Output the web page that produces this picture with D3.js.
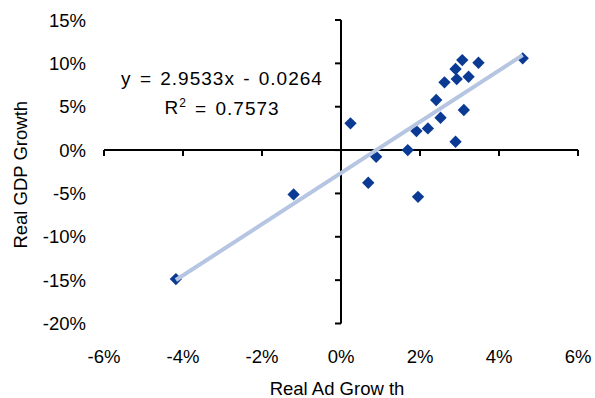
<!DOCTYPE html>
<html>
<head>
<meta charset="utf-8">
<script src="https://cdn.jsdelivr.net/npm/d3@7"></script>
<style>
  html, body { margin: 0; padding: 0; background: #fff; }
  svg { display: block; font-family: "Liberation Sans", Arial, sans-serif; }
</style>
</head>
<body>
<svg id="chart" width="595" height="398"></svg>
<script>
// Real advertising growth vs real GDP growth (fractions)
const adGrowth  = [-0.0418, 0.0460, -0.0120, 0.0024, 0.0089, 0.0069, 0.0195, 0.0169,
                   0.0191, 0.0220, 0.0252, 0.0311, 0.0290, 0.0241, 0.0262, 0.0293,
                   0.0323, 0.0290, 0.0307, 0.0348];
const gdpGrowth = [-0.1488, 0.1058, -0.0511, 0.0308, -0.0077, -0.0377, -0.0539, 0.0000,
                   0.0219, 0.0250, 0.0373, 0.0462, 0.0096, 0.0577, 0.0781, 0.0819,
                   0.0846, 0.0935, 0.1038, 0.1007];

// Linear fit shown on the chart
const trendSlope = 2.9533;
const trendIntercept = -0.0264;
const rSquared = 0.7573;

const xTickValues = [-0.06, -0.04, -0.02, 0, 0.02, 0.04, 0.06];
const yTickValues = [-0.20, -0.15, -0.10, -0.05, 0, 0.05, 0.10, 0.15];

const svg = d3.select("#chart");
const fontSize = 18.5;

const x = d3.scaleLinear().domain([-0.06, 0.06]).range([104, 578]);
const y = d3.scaleLinear().domain([-0.20, 0.15]).range([323.5, 20]);
const pctFmt = d3.format(".0%");
const pct = d => pctFmt(d).replace("\u2212", "-");

const x0 = x(0), y0 = y(0);

// Vertical axis through x = 0, ticks to the left
svg.append("line")
  .attr("x1", x0).attr("x2", x0)
  .attr("y1", y(0.15)).attr("y2", y(-0.20))
  .attr("stroke", "#000").attr("stroke-width", 2);
svg.selectAll(".ytick").data(yTickValues).join("line")
  .attr("class", "ytick")
  .attr("x1", x0 - 6).attr("x2", x0)
  .attr("y1", d => y(d)).attr("y2", d => y(d))
  .attr("stroke", "#000").attr("stroke-width", 2);

// Horizontal axis through y = 0, ticks below
svg.append("line")
  .attr("x1", x(-0.06)).attr("x2", x(0.06))
  .attr("y1", y0).attr("y2", y0)
  .attr("stroke", "#000").attr("stroke-width", 2);
svg.selectAll(".xtick").data(xTickValues).join("line")
  .attr("class", "xtick")
  .attr("x1", d => x(d)).attr("x2", d => x(d))
  .attr("y1", y0).attr("y2", y0 + 6)
  .attr("stroke", "#000").attr("stroke-width", 2);

// Tick labels sit at the low edge of the plot
svg.selectAll(".ylabel").data(yTickValues).join("text")
  .attr("class", "ylabel")
  .attr("x", 86).attr("y", d => y(d)).attr("dy", "0.36em")
  .attr("text-anchor", "end")
  .attr("font-size", fontSize).attr("fill", "#000")
  .text(d => pct(d));
svg.selectAll(".xlabel").data(xTickValues).join("text")
  .attr("class", "xlabel")
  .attr("x", d => x(d)).attr("y", 356).attr("dy", "0.36em")
  .attr("text-anchor", "middle")
  .attr("font-size", fontSize).attr("fill", "#000")
  .text(d => pct(d));

// Axis titles
svg.append("text")
  .attr("transform", `translate(20, ${(y(0.15) + y(-0.20)) / 2 + 3}) rotate(-90)`)
  .attr("dy", "0.36em")
  .attr("text-anchor", "middle")
  .attr("font-size", fontSize).attr("fill", "#000")
  .text("Real GDP Growth");
svg.append("text")
  .attr("x", (x(-0.06) + x(0.06)) / 2 - 4).attr("y", 388).attr("dy", "0.36em")
  .attr("text-anchor", "middle")
  .attr("font-size", fontSize).attr("fill", "#000")
  .text("Real Ad Grow th");

// Data markers: diamonds
const diamond = d3.symbol().type(d3.symbolSquare).size(76);
svg.selectAll(".pt").data(adGrowth.map((a, i) => [a, gdpGrowth[i]])).join("path")
  .attr("class", "pt")
  .attr("d", diamond)
  .attr("transform", d => `translate(${x(d[0])},${y(d[1])}) rotate(45)`)
  .attr("fill", "#0b3a94");

// Trend line across the data range
const [xMin, xMax] = d3.extent(adGrowth);
svg.append("line")
  .attr("x1", x(xMin)).attr("y1", y(trendSlope * xMin + trendIntercept))
  .attr("x2", x(xMax)).attr("y2", y(trendSlope * xMax + trendIntercept))
  .attr("stroke", "#b6c5e1").attr("stroke-width", 4);

// Fit equation and R²
const eq = svg.append("g").attr("font-size", 19).attr("fill", "#000")
  .attr("text-anchor", "middle").attr("letter-spacing", 1).attr("word-spacing", 2);
eq.append("text").attr("x", 222).attr("y", 78).attr("dy", "0.36em")
  .text(`y = ${trendSlope.toFixed(4)}x - ${Math.abs(trendIntercept).toFixed(4)}`);
const r2 = eq.append("text").attr("x", 222).attr("y", 107).attr("dy", "0.36em");
r2.append("tspan").text("R");
r2.append("tspan").attr("font-size", 12).attr("dy", "-0.6em").text("2");
r2.append("tspan").attr("dy", "0.42em").text(` = ${rSquared.toFixed(4)}`);
</script>
</body>
</html>
